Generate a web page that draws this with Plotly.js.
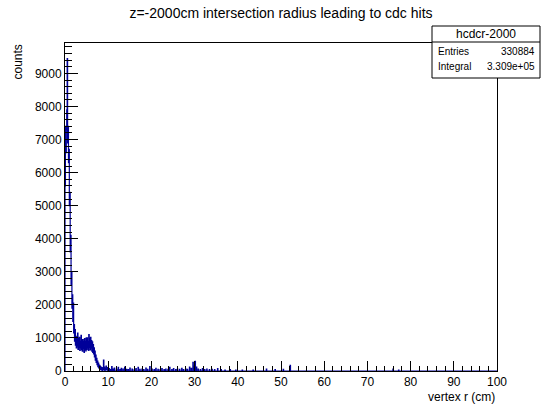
<!DOCTYPE html>
<html>
<head>
<meta charset="utf-8">
<script src="https://cdn.plot.ly/plotly-3.0.1.min.js"></script>
<style>
html,body{margin:0;padding:0;background:#fff;}
#chart{width:543px;height:408px;}
</style>
</head>
<body>
<div id="chart"></div>
<script>
// Histogram hcdcr-2000: vertex r (cm), bin width 0.1 cm
const chartTitle = "z=-2000cm intersection radius leading to cdc hits";
const xTitle = "vertex r (cm)";
const yTitle = "counts";
const histName = "hcdcr-2000";
const statEntries = "330884";
const statIntegral = "3.309e+05";
const binWidth = 0.1;
const xMin = 0, xMax = 100;

// counts for bins 0.0 - 10.0 cm (0.1 cm each)
const coreCounts = [
  5600, 7400, 6600, 7300, 7900, 9450, 6900, 7400, 6300, 6700,
  5000, 5400, 3600, 4100, 2600, 3000, 1900, 2300, 1500, 2050,
  1150, 1400, 900, 1250, 780, 1050, 700, 1000, 760, 1150,
  650, 980, 720, 1020, 620, 900, 700, 1080, 640, 940,
  600, 950, 680, 880, 560, 980, 660, 900, 610, 1000,
  650, 1000, 700, 900, 620, 1100, 720, 980, 640, 1020,
  700, 920, 600, 880, 560, 800, 520, 700, 430, 600,
  330, 480, 260, 380, 190, 300, 130, 240, 90, 180,
  60, 150, 40, 120, 30, 100, 20, 90, 30, 330,
  40, 120, 20, 80, 40, 150, 30, 60, 100, 20
];

// sparse tail beyond 10 cm: bin position (cm) and counts
const tailR = [10.2,10.5,10.8,11.1,11.4,11.9,12.3,12.7,13.0,13.4,13.8,14.2,14.6,15.0,15.5,16.0,16.4,16.9,17.3,17.8,18.2,18.7,19.1,19.6,20.1,20.6,21.0,21.5,22.0,22.4,22.9,23.3,23.8,24.2,24.7,25.1,25.6,26.0,26.5,27.0,27.4,27.9,28.3,28.8,29.2,29.6,29.9,30.1,30.4,30.8,31.3,31.8,32.3,32.8,33.4,34.0,34.6,35.3,36.1,37.0,38.2,39.5,41.0,43.5,46.6,48.6,50.5,52.1,75.9,77.2];
const tailCounts = [70,40,130,60,90,50,110,40,80,60,120,50,40,90,60,40,70,110,50,60,40,90,50,130,60,40,80,50,40,70,40,60,50,110,40,70,40,60,50,80,40,60,50,120,80,260,150,290,120,60,40,70,40,60,40,50,40,70,40,30,40,30,30,25,60,40,50,170,60,30];

// assemble full histogram
const nBins = Math.round((xMax - xMin) / binWidth);
const counts = new Array(nBins).fill(0);
coreCounts.forEach((c, i) => { counts[i] = c; });
tailR.forEach((r, i) => { counts[Math.floor(r / binWidth + 1e-6)] = tailCounts[i]; });

const xs = [xMin], ys = [0];
for (let i = 0; i < nBins; i++) { xs.push(xMin + i * binWidth); ys.push(counts[i]); }
xs.push(xMax); ys.push(0);

const font = "Liberation Sans, Arial, Helvetica, sans-serif";

const trace = {
  x: xs, y: ys, type: "scatter", mode: "lines",
  line: {shape: "hv", color: "#000099", width: 1.2},
  hoverinfo: "skip"
};

const axisCommon = {
  showgrid: false, zeroline: false, showline: true, mirror: true,
  linecolor: "#000", linewidth: 1, ticks: "inside", tickcolor: "#000",
  tickwidth: 1, tickfont: {family: font, size: 12, color: "#000"},
  tickformat: "d"
};

const layout = {
  width: 543, height: 408,
  margin: {l: 65, r: 46, t: 43, b: 37},
  paper_bgcolor: "#fff", plot_bgcolor: "#fff",
  showlegend: false,
  title: {text: chartTitle, font: {family: font, size: 14, color: "#000"}, x: 0.5, xref: "paper", y: 1 - 13/408, yanchor: "middle", xanchor: "center"},
  xaxis: Object.assign({}, axisCommon, {
    range: [xMin, xMax], dtick: 10, tick0: 0, ticklen: 10,
    minor: {dtick: 2, ticklen: 5, ticks: "inside", tickcolor: "#000", showgrid: false}
  }),
  yaxis: Object.assign({}, axisCommon, {
    range: [0, 9920], dtick: 1000, tick0: 0, ticklen: 13,
    minor: {dtick: 200, ticklen: 7, ticks: "inside", tickcolor: "#000", showgrid: false}
  }),
  annotations: [
    {text: yTitle, xref: "paper", yref: "paper", x: -48/432, y: 1, xanchor: "center", yanchor: "top", textangle: -90, showarrow: false, font: {family: font, size: 12, color: "#000"}},
    {text: xTitle, xref: "paper", yref: "paper", x: 1, y: -17/328, xanchor: "right", yanchor: "top", showarrow: false, font: {family: font, size: 12, color: "#000"}}
  ]
};

// stats box in pixel coords converted to paper coords
const plotL = 65, plotT = 43, plotW = 543 - 65 - 46, plotH = 408 - 43 - 37;
function px(xp) { return (xp - plotL) / plotW; }
function py(yp) { return 1 - (yp - plotT) / plotH; }
const boxL = 432, boxR = 540, boxT = 26, boxB = 78, boxSep = 42;
layout.shapes = [
  {type: "rect", xref: "paper", yref: "paper", x0: px(boxL), x1: px(boxR), y0: py(boxB), y1: py(boxT), line: {color: "#000", width: 1}, fillcolor: "#fff", layer: "above"},
  {type: "line", xref: "paper", yref: "paper", x0: px(boxL), x1: px(boxR), y0: py(boxSep), y1: py(boxSep), line: {color: "#000", width: 1}, layer: "above"}
];
const sFont = {family: font, size: 10, color: "#000"};
layout.annotations.push(
  {text: histName, xref: "paper", yref: "paper", x: px((boxL + boxR) / 2), y: py((boxT + boxSep) / 2), xanchor: "center", yanchor: "middle", showarrow: false, font: {family: font, size: 12, color: "#000"}},
  {text: "Entries", xref: "paper", yref: "paper", x: px(boxL + 4), y: py(51), xanchor: "left", yanchor: "middle", showarrow: false, font: sFont},
  {text: statEntries, xref: "paper", yref: "paper", x: px(boxR - 3), y: py(51), xanchor: "right", yanchor: "middle", showarrow: false, font: sFont},
  {text: "Integral", xref: "paper", yref: "paper", x: px(boxL + 4), y: py(67), xanchor: "left", yanchor: "middle", showarrow: false, font: sFont},
  {text: statIntegral, xref: "paper", yref: "paper", x: px(boxR - 3), y: py(67), xanchor: "right", yanchor: "middle", showarrow: false, font: sFont}
);

Plotly.newPlot("chart", [trace], layout, {staticPlot: true, displayModeBar: false});
</script>
</body>
</html>
